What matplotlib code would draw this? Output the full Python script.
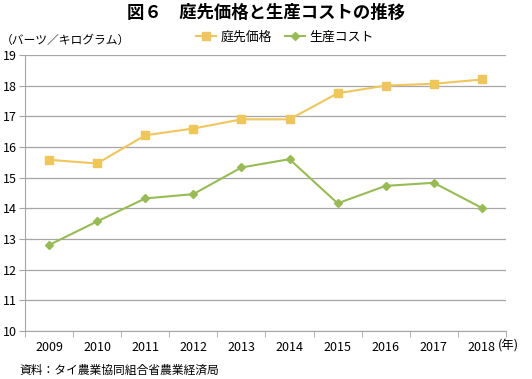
import matplotlib.pyplot as plt

plt.rcParams['font.family'] = ['Noto Sans CJK JP', 'DejaVu Sans']

years = ["2009", "2010", "2011", "2012", "2013", "2014", "2015", "2016", "2017", "2018"]
price = [15.58, 15.46, 16.38, 16.60, 16.90, 16.90, 17.75, 18.00, 18.06, 18.20]
cost = [12.80, 13.57, 14.32, 14.46, 15.33, 15.60, 14.16, 14.73, 14.83, 14.01]
yticks = list(range(10, 20))

PRICE_C = "#EEC65C"
COST_C = "#98BB55"
GRID_C = "#A6A6A6"

fig = plt.figure(figsize=(5.32, 3.79), dpi=100)
ax = fig.add_axes([0.047, 0.127, 0.904, 0.728])

x = range(len(years))
ax.plot(x, price, color=PRICE_C, lw=1.5, marker="s", ms=6, label="庭先価格")
ax.plot(x, cost, color=COST_C, lw=1.5, marker="D", ms=4.5, label="生産コスト")

ax.set_xlim(-0.5, len(years) - 0.5)
ax.set_ylim(10, 19)
ax.set_yticks(yticks)
ax.set_yticklabels([str(v) for v in yticks], fontsize=9)
ax.set_xticks(x)
ax.set_xticklabels(years, fontsize=9)
ax.set_xticks([i - 0.5 for i in range(len(years) + 1)], minor=True)
ax.tick_params(axis="x", which="major", length=0, pad=7)
ax.tick_params(axis="x", which="minor", length=4, color=GRID_C)
ax.tick_params(axis="y", length=4, color=GRID_C, pad=2)

ax.grid(axis="y", color=GRID_C, lw=0.9)
ax.set_axisbelow(True)
for s in ["top", "right"]:
    ax.spines[s].set_visible(False)
for s in ["left", "bottom"]:
    ax.spines[s].set_color(GRID_C)

fig.text(0.5, 0.967, "図６　庭先価格と生産コストの推移", ha="center", va="center",
         fontsize=12.5, fontweight="bold")
fig.text(0.002, 0.893, "（バーツ／キログラム）", ha="left", va="center", fontsize=8.5)
fig.text(0.935, 0.087, "(年)", ha="left", va="center", fontsize=9)
fig.text(0.036, 0.022, "資料：タイ農業協同組合省農業経済局", ha="left", va="center", fontsize=8.5)

ax.legend(loc="center", bbox_to_anchor=(0.54, 1.065), ncol=2, frameon=False,
          fontsize=9.3, handlelength=1.6, columnspacing=1.0, handletextpad=0.3,
          borderaxespad=0)

fig.savefig("out.png", dpi=100)
